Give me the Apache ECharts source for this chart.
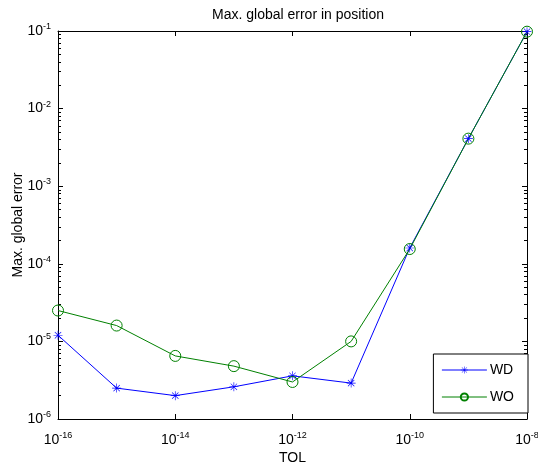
<!DOCTYPE html>
<html>
<head>
<meta charset="utf-8">
<script src="https://cdn.jsdelivr.net/npm/echarts@6/dist/echarts.min.js"></script>
<style>
html,body{margin:0;padding:0;background:#fff;}
#c{width:538px;height:466px;}
</style>
</head>
<body>
<div id="c"></div>
<script>
var tol = [1e-16, 1e-15, 1e-14, 1e-13, 1e-12, 1e-11, 1e-10, 1e-9, 1e-8];
var wd  = [1.2e-5, 2.5e-6, 2.0e-6, 2.6e-6, 3.6e-6, 2.9e-6, 1.6e-4, 4.1e-3, 0.098];
var wo  = [2.5e-5, 1.6e-5, 6.5e-6, 4.8e-6, 3.0e-6, 1.0e-5, 1.55e-4, 4.1e-3, 0.098];
var xTicks = [1e-16, 1e-14, 1e-12, 1e-10, 1e-8];
var yTicks = [1e-6, 1e-5, 1e-4, 1e-3, 1e-2, 1e-1];
var seriesNames = ['WD', 'WO'];

var yMinor = [];
for (var e = -6; e < -1; e++) {
  for (var k = 2; k <= 9; k++) yMinor.push(k * Math.pow(10, e));
}

var FONT = '"Liberation Sans", Arial, sans-serif';
function supLabel(v) {
  var ex = Math.round(Math.log10(v));
  return '{b|10}{s|' + ex + '}';
}
var rich = {
  b: {fontSize: 14, lineHeight: 18, fontFamily: FONT, color: '#000'},
  s: {fontSize: 9, lineHeight: 6, verticalAlign: 'top', fontFamily: FONT, color: '#000'}
};

var star = 'path://M9.3 0 L10.7 0 L10.7 20 L9.3 20 Z M0 9.3 L20 9.3 L20 10.7 L0 10.7 Z ' +
  'M2.4 3.4 L3.4 2.4 L17.6 16.6 L16.6 17.6 Z M16.6 2.4 L17.6 3.4 L3.4 17.6 L2.4 16.6 Z';

function xAx(pos, labels) {
  return {
    type: 'log', logBase: 10, min: 1e-16, max: 1e-8, position: pos,
    name: labels ? 'TOL' : '', nameLocation: 'middle', nameGap: 32, nameMoveOverlap: false,
    nameTextStyle: {fontSize: 14, fontFamily: FONT, color: '#000'},
    axisLine: {show: true, onZero: false, lineStyle: {color: '#000', width: 1}},
    axisTick: {show: true, inside: true, length: 5, customValues: xTicks, lineStyle: {color: '#000'}},
    axisLabel: {show: labels, margin: 12, customValues: xTicks, formatter: supLabel, rich: rich},
    splitLine: {show: false}, minorTick: {show: false}
  };
}
function yAx(pos, labels, minor) {
  return {
    type: 'log', logBase: 10, min: 1e-6, max: 1e-1, position: pos,
    name: labels ? 'Max. global error' : '', nameLocation: 'middle', nameGap: 33, nameMoveOverlap: false,
    nameTextStyle: {fontSize: 14, fontFamily: FONT, color: '#000'},
    axisLine: {show: !minor, onZero: false, lineStyle: {color: '#000', width: 1}},
    axisTick: {show: true, inside: true, length: minor ? 3 : 5, customValues: minor ? yMinor : yTicks, lineStyle: {color: '#000'}},
    axisLabel: {show: labels, margin: 7, customValues: yTicks, formatter: supLabel, rich: rich},
    splitLine: {show: false}, minorTick: {show: false}
  };
}

var chart = echarts.init(document.getElementById('c'), null, {renderer: 'canvas'});
chart.setOption({
  backgroundColor: '#fff',
  animation: false,
  title: {
    text: 'Max. global error in position', left: 293, top: 3, textAlign: 'center',
    textStyle: {fontSize: 14, fontWeight: 'normal', fontFamily: FONT, color: '#000'}
  },
  grid: {left: 58, right: 11, top: 31, bottom: 47, containLabel: false, outerBoundsMode: 'none'},
  xAxis: [xAx('bottom', true), xAx('top', false)],
  yAxis: [yAx('left', true, false), yAx('right', false, false), yAx('left', false, true), yAx('right', false, true)],
  legend: {
    data: seriesNames, orient: 'vertical', right: 10, bottom: 53,
    backgroundColor: '#fff', borderColor: '#000', borderWidth: 1, borderRadius: 0,
    padding: [9, 14, 9, 8], itemGap: 13, itemWidth: 45, itemHeight: 9,
    lineStyle: {width: 1},
    textStyle: {fontSize: 14, fontFamily: FONT, color: '#000', padding: [0, 0, 0, -2]}
  },
  series: [
    {
      name: seriesNames[0], type: 'line', xAxisIndex: 0, yAxisIndex: 0,
      data: tol.map(function (t, i) { return [t, wd[i]]; }),
      symbol: star, symbolSize: 9, showAllSymbol: true,
      lineStyle: {color: '#0000ff', width: 1},
      itemStyle: {color: '#0000ff', borderWidth: 0}
    },
    {
      name: seriesNames[1], type: 'line', xAxisIndex: 0, yAxisIndex: 0,
      data: tol.map(function (t, i) { return [t, wo[i]]; }),
      symbol: 'circle', symbolSize: 11, showAllSymbol: true,
      lineStyle: {color: '#008000', width: 1},
      itemStyle: {color: 'rgba(0,0,0,0)', borderColor: '#008000', borderWidth: 1}
    }
  ]
});
</script>
</body>
</html>
